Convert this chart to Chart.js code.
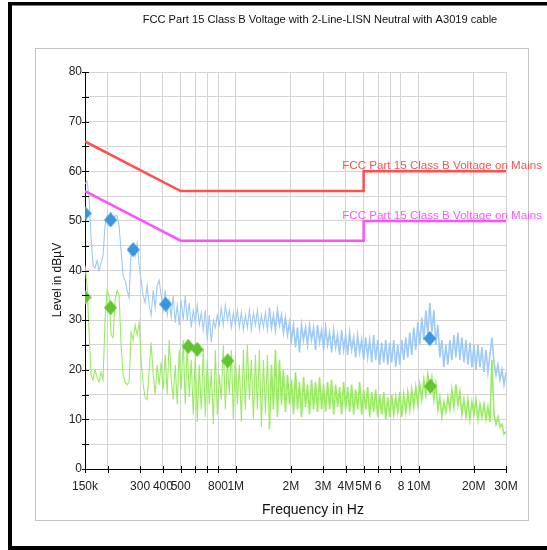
<!DOCTYPE html>
<html><head><meta charset="utf-8">
<script src="https://cdn.jsdelivr.net/npm/chart.js@4/dist/chart.umd.min.js"></script>
<style>html,body{margin:0;padding:0;background:#fff;overflow:hidden}canvas{display:block}</style>
</head><body>
<canvas id="c" width="547" height="550"></canvas>
<script>
const titleText = "FCC Part 15 Class B Voltage with 2-Line-LISN Neutral with A3019 cable";
const xTitle = "Frequency in Hz";
const yTitle = "Level in dB\u00B5V";
const limitName = "FCC Part 15 Class B Voltage on Mains";

const xTickVals = [150e3,200e3,300e3,400e3,500e3,600e3,700e3,800e3,1e6,2e6,3e6,4e6,5e6,6e6,7e6,8e6,10e6,20e6,30e6];
const xTickLabels = ["150k","","300","400","500","","","800","1M","2M","3M","4M","5M","6","","8","10M","20M","30M"];
const yTickVals = [0,5,10,15,20,25,30,35,40,45,50,55,60,65,70,75,80];

const limitFreq = [150e3,500e3,5e6,5e6,30e6];
const limitQPLevel = [66,56,56,60,60];
const limitAVLevel = [56,46,46,50,50];

// sweep grid (log steps from 150 kHz to 30 MHz)
const sweepStart = 150e3, sweepStop = 30e6;

// peak trace (light blue)
const peakLevels = [
57.5,58,55,47,41,40.5,42,40,41.5,43,
49,51,50.5,51.5,50,51,51,49,44,39,
38,36,34.5,44,45,43,45.5,41,38,35,
33.5,37,33,31,36,32.5,37,38,35,32,
36,31,34,30.5,35,29.5,33,29,34,30,
35,30,33.5,28.5,32,29.5,33,29,31.5,28,
32,26,31,25.5,30,28.5,31,29,32.5,29,
33,30,32,28.5,31.5,29,32,28.5,31.5,28,
31,28.5,32,28,31.5,29,32,28,31,28.5,
31.5,28,32.5,28.5,31,28,32,29,31,27.5,
30.5,27,29.5,26,29,24.5,28.5,23.5,29,26,
28.5,25,29,26,28.5,24,29,25.5,28,24,
28.5,25,27.5,23.5,28,24.5,27,23,28,24,
27,23,27.5,24,26.5,22.5,27,23.5,26,22,
26.5,22.5,26,21.5,27,22,26,21,25.5,21.5,
26,21,25.5,21.5,26,20.5,25,21,26,22,
26.5,22.5,27.5,23,28.5,24,29.5,25,30.5,26,
32,27,33.5,27.5,32,25,29,22.5,26,20.5,
25,21,26,22,27,22.5,27.5,22,26.5,21.5,
26,21,25.5,20.5,25,20,25,20.5,24.5,19.5,
24,19.5,23,26.5,21.5,19,21,18,20,17,19.5
];

// average trace (light green)
const avgLevels = [
41,37,28,19,18,20,18.5,17.5,19.5,18,
30,36,35,27,26.5,34,36,35,25,19,
17.5,17,17.5,27.5,26,29,27,29.5,22,17,
14.5,14,20,25.5,19,15,21,17,21.5,16,
23,15,26,18,14,21,13,24,16,26,
13,25,14.5,22,11,23,9.5,21,12,24,
10.5,22,13,20,9,24,11,19,14,25,
12,22,15,24,10,23,13,21,9.5,24,
12,25,14,22,10,23,12,24,8.5,22,
11,23,8,21,12,24,10.5,22,13,20,
11.5,19,13,18,11,19.5,12,17.5,10.5,18.5,
12.5,17,11,18,12,17.5,11.5,18.5,12,17,
11.5,17.5,12,18,11,17,12.5,16.5,11,17.5,
12,16.5,11.5,17,11,16,12,17.5,11,16,
12,16.5,10.5,15.5,11.5,16,10.5,15,11,15.5,
10,14.5,10.5,15,11,14.5,11.5,15.5,10.5,15,
11.5,15.5,12,16,12.5,16.5,13,17,14,18,
15,19,16,18.5,14,17,12,14.5,10.5,13.5,
11.5,14.5,12,16,12.5,17,13,15.5,11,14,
10.5,14,10,13.5,11,14,10,13,10.5,13,
10,12.5,9.5,22,11,9,10.5,8.5,9,7,7.5
];

const qpMarkFreq = [150e3,207e3,275e3,414e3,11.5e6];
const qpMarkLevel = [51.5,50.2,44.2,33.2,26.3];
const avMarkFreq = [150e3,207e3,550e3,616e3,904e3,11.6e6];
const avMarkLevel = [34.6,32.5,24.7,24.1,21.8,16.7];

const N = peakLevels.length;
const sweepFreq = [];
for (let i = 0; i < N; i++) sweepFreq.push(sweepStart * Math.pow(sweepStop / sweepStart, i / (N - 1)));

const toXY = (fs, ls) => fs.map((f, i) => ({x: f, y: ls[i]}));

function diamond(color) {
  const c = document.createElement('canvas');
  c.width = 13; c.height = 15;
  const g = c.getContext('2d');
  g.fillStyle = color;
  g.beginPath();
  g.moveTo(6.5, 0); g.lineTo(13, 7.5); g.lineTo(6.5, 15); g.lineTo(0, 7.5);
  g.closePath(); g.fill();
  return c;
}

const FONT = "'Liberation Sans', Arial, sans-serif";
const traceWidth = c => (c.p0.parsed.x >= 1.5e6 ? 1.6 : 1.1);

const decor = {
  id: 'decor',
  beforeDraw(chart) {
    const ctx = chart.ctx;
    ctx.save();
    ctx.fillStyle = '#fff';
    ctx.fillRect(0, 0, 547, 550);
    ctx.fillStyle = '#000';
    ctx.fillRect(8, 2, 540, 3.5);
    ctx.fillRect(8, 2, 4, 548);
    ctx.fillRect(8, 546, 540, 4);
    ctx.strokeStyle = '#c4c4c4';
    ctx.lineWidth = 1;
    ctx.strokeRect(35.5, 48.5, 493, 472);
    ctx.restore();
  },
  afterDraw(chart) {
    const ctx = chart.ctx;
    const xs = chart.scales.x, ys = chart.scales.y;
    ctx.save();
    ctx.strokeStyle = '#000';
    ctx.lineWidth = 1;
    ctx.beginPath();
    yTickVals.forEach(v => {
      const y = Math.round(ys.getPixelForValue(v)) + 0.5;
      ctx.moveTo(82, y); ctx.lineTo(89, y);
    });
    xTickVals.forEach(v => {
      const x = Math.round(xs.getPixelForValue(v)) + 0.5;
      ctx.moveTo(x, 466); ctx.lineTo(x, 473);
    });
    ctx.stroke();

    ctx.fillStyle = '#111';
    ctx.textBaseline = 'middle';
    ctx.textAlign = 'center';
    ctx.font = '11.1px ' + FONT;
    ctx.fillText(titleText, 320, 20);
    ctx.font = '14px ' + FONT;
    ctx.fillText(xTitle, 313, 510);
    ctx.save();
    ctx.translate(58, 280);
    ctx.rotate(-Math.PI / 2);
    ctx.font = '12px ' + FONT;
    ctx.fillText(yTitle, 0, 0);
    ctx.restore();

    ctx.textAlign = 'right';
    ctx.textBaseline = 'alphabetic';
    ctx.font = '11.6px ' + FONT;
    ctx.fillStyle = '#ff5050';
    ctx.fillText(limitName, 542, ys.getPixelForValue(limitQPLevel[4]) - 2);
    ctx.fillStyle = '#ff55ff';
    ctx.fillText(limitName, 542, ys.getPixelForValue(limitAVLevel[4]) - 2);
    ctx.restore();
  }
};

new Chart(document.getElementById('c'), {
  type: 'line',
  data: {
    datasets: [
      {data: toXY(qpMarkFreq, qpMarkLevel), showLine: false, pointStyle: diamond('#3a96dc'), pointRadius: 6, order: 0},
      {data: toXY(avMarkFreq, avMarkLevel), showLine: false, pointStyle: diamond('#62c52f'), pointRadius: 6, order: 0},
      {data: toXY(limitFreq, limitQPLevel), borderColor: '#ff4f4f', borderWidth: 2.5, pointRadius: 0, order: 1},
      {data: toXY(limitFreq, limitAVLevel), borderColor: '#ff50ff', borderWidth: 2.5, pointRadius: 0, order: 1},
      {data: toXY(sweepFreq, avgLevels), borderColor: '#98ec62', borderWidth: 1.1, pointRadius: 0, order: 2,
        segment: {borderWidth: traceWidth}},
      {data: toXY(sweepFreq, peakLevels), borderColor: '#9ecaf5', borderWidth: 1.1, pointRadius: 0, order: 3,
        segment: {borderWidth: traceWidth}}
    ]
  },
  options: {
    responsive: false,
    animation: false,
    devicePixelRatio: 1,
    layout: {padding: {left: 0, right: 41, top: 72, bottom: 0}},
    plugins: {legend: {display: false}, tooltip: {enabled: false}, title: {display: false}},
    elements: {line: {tension: 0}},
    scales: {
      x: {
        type: 'logarithmic', min: sweepStart, max: sweepStop,
        afterBuildTicks: s => { s.ticks = xTickVals.map(v => ({value: v})); },
        afterFit: s => { s.height = 81; },
        ticks: {autoSkip: false, maxRotation: 0, minRotation: 0, padding: 10, color: '#222',
          font: {family: FONT, size: 12}, callback: (v, i) => xTickLabels[i]},
        grid: {color: '#d4d4d4', lineWidth: 1, drawTicks: false},
        border: {color: '#000', width: 1}
      },
      y: {
        type: 'linear', min: 0, max: 80,
        afterBuildTicks: s => { s.ticks = yTickVals.map(v => ({value: v})); },
        afterFit: s => { s.width = 85; },
        ticks: {autoSkip: false, padding: 3, color: '#222', font: {family: FONT, size: 12},
          callback: v => (v % 10 === 0 ? String(v) : '')},
        grid: {color: '#d4d4d4', lineWidth: 1, drawTicks: false},
        border: {color: '#000', width: 1}
      }
    }
  },
  plugins: [decor]
});
</script>
</body></html>
